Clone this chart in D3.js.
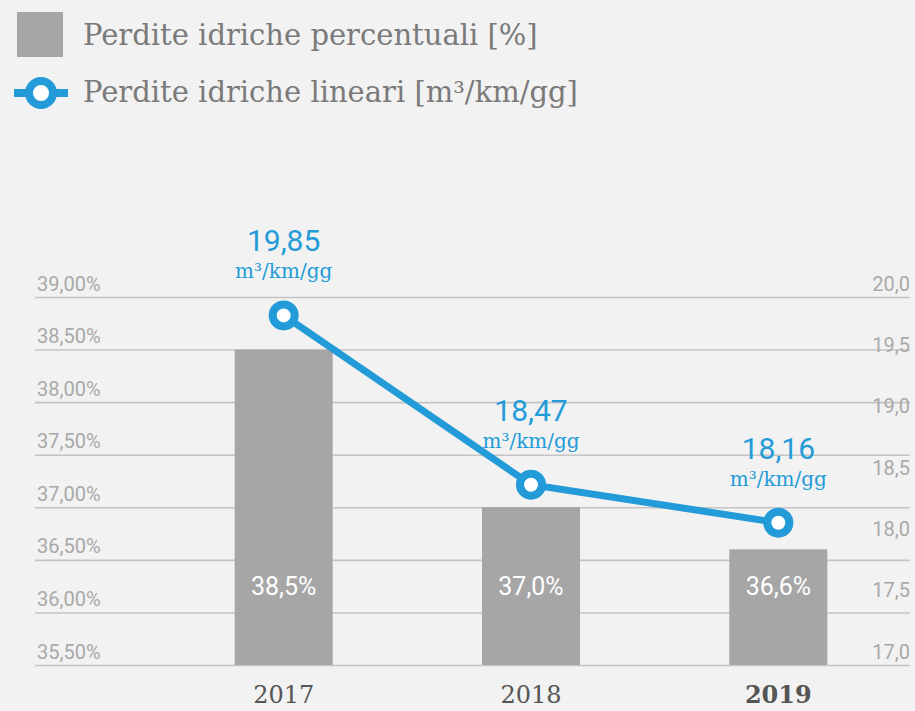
<!DOCTYPE html>
<html>
<head>
<meta charset="utf-8">
<script src="https://cdn.jsdelivr.net/npm/d3@7"></script>
<style>
  html, body { margin: 0; padding: 0; background: #f2f2f2; }
  svg { display: block; }
  .slab { font-family: "Roboto Slab", "DejaVu Serif", serif; }
  .sans { font-family: Roboto, "Noto Sans", sans-serif; }
</style>
</head>
<body>
<div id="chart"></div>
<script>
// data
var years = ["2017", "2018", "2019"];
var percentLosses = [38.5, 37.0, 36.6];
var linearLosses = [19.85, 18.47, 18.16];
var leftTicks = [35.5, 36.0, 36.5, 37.0, 37.5, 38.0, 38.5, 39.0];
var rightTicks = [17.0, 17.5, 18.0, 18.5, 19.0, 19.5, 20.0];
var legendLabels = ["Perdite idriche percentuali [%]", "Perdite idriche lineari [m³/km/gg]"];
var unitLabel = "m³/km/gg";

var width = 915, height = 711;
var blue = "#229bd8", barGrey = "#a6a6a6";

var it = d3.formatLocale({ decimal: ",", thousands: ".", grouping: [3], currency: ["", "€"] });
var fmtLeft = function (d) { return it.format(".2f")(d) + "%"; };
var fmtRight = it.format(".1f");
var fmtBar = function (d) { return it.format(".1f")(d) + "%"; };
var fmtValue = it.format(".2f");

var svg = d3.select("#chart").append("svg")
    .attr("width", width)
    .attr("height", height);

svg.append("rect").attr("width", width).attr("height", height).attr("fill", "#f2f2f2");

var plotLeft = 35, plotRight = 910, plotTop = 297, plotBottom = 665;

var x = d3.scaleBand().domain(years).range([160, 902]);
var barW = 98;
var yL = d3.scaleLinear().domain([35.5, 39.0]).range([plotBottom, plotTop]);
var yR = d3.scaleLinear().domain([17.0, 20.0]).range([plotBottom, plotTop]);

// left axis with gridlines
var leftAxis = svg.append("g")
    .attr("transform", "translate(" + plotLeft + ",0)")
    .call(d3.axisRight(yL).tickValues(leftTicks).tickSize(plotRight - plotLeft).tickFormat(fmtLeft));
leftAxis.select(".domain").remove();
leftAxis.selectAll(".tick line").attr("stroke", "#c4c4c4").attr("stroke-width", 1.6);
leftAxis.selectAll(".tick text")
    .attr("class", "sans")
    .attr("x", 2).attr("dy", -7)
    .attr("text-anchor", "start")
    .attr("fill", "#a9a9a9")
    .attr("font-size", 20);

// right axis (labels only)
var rightAxis = svg.append("g")
    .attr("transform", "translate(" + plotRight + ",0)")
    .call(d3.axisLeft(yR).tickValues(rightTicks).tickSize(0).tickFormat(fmtRight));
rightAxis.select(".domain").remove();
rightAxis.selectAll(".tick text")
    .attr("class", "sans")
    .attr("x", 0).attr("dy", -7)
    .attr("text-anchor", "end")
    .attr("fill", "#a9a9a9")
    .attr("font-size", 20);

// bars
var bars = svg.append("g");
bars.selectAll("rect")
    .data(years)
    .enter().append("rect")
    .attr("x", function (d) { return x(d) + x.bandwidth() / 2 - barW / 2; })
    .attr("y", function (d, i) { return yL(percentLosses[i]); })
    .attr("width", barW)
    .attr("height", function (d, i) { return yL(35.5) - yL(percentLosses[i]); })
    .attr("fill", barGrey);
bars.selectAll("text")
    .data(years)
    .enter().append("text")
    .attr("class", "sans")
    .attr("x", function (d) { return x(d) + x.bandwidth() / 2; })
    .attr("y", 595)
    .attr("text-anchor", "middle")
    .attr("fill", "#ffffff")
    .attr("font-size", 25)
    .text(function (d, i) { return fmtBar(percentLosses[i]); });

// year labels
svg.append("g").selectAll("text")
    .data(years)
    .enter().append("text")
    .attr("class", "slab")
    .attr("x", function (d) { return x(d) + x.bandwidth() / 2; })
    .attr("y", 703)
    .attr("text-anchor", "middle")
    .attr("fill", "#555555")
    .attr("font-size", 24)
    .attr("font-weight", function (d, i) { return i === years.length - 1 ? "bold" : "normal"; })
    .text(function (d) { return d; });

// line series
var line = d3.line()
    .x(function (d, i) { return x(years[i]) + x.bandwidth() / 2; })
    .y(function (d) { return yR(d); });
svg.append("path")
    .datum(linearLosses)
    .attr("d", line)
    .attr("fill", "none")
    .attr("stroke", blue)
    .attr("stroke-width", 7);

var points = svg.append("g").selectAll("g")
    .data(linearLosses)
    .enter().append("g")
    .attr("transform", function (d, i) {
        return "translate(" + (x(years[i]) + x.bandwidth() / 2) + "," + yR(d) + ")";
    });
points.append("circle")
    .attr("r", 11)
    .attr("fill", "#ffffff")
    .attr("stroke", blue)
    .attr("stroke-width", 8);
points.append("text")
    .attr("class", "sans")
    .attr("y", -64)
    .attr("text-anchor", "middle")
    .attr("fill", blue)
    .attr("font-size", 30)
    .text(function (d) { return fmtValue(d); });
points.append("text")
    .attr("class", "slab")
    .attr("y", -37)
    .attr("text-anchor", "middle")
    .attr("fill", blue)
    .attr("font-size", 20)
    .text(unitLabel);

// legend
var legend = svg.append("g");
legend.append("rect")
    .attr("x", 17).attr("y", 12)
    .attr("width", 46).attr("height", 45)
    .attr("fill", barGrey);
legend.append("line")
    .attr("x1", 14).attr("x2", 68)
    .attr("y1", 93).attr("y2", 93)
    .attr("stroke", blue).attr("stroke-width", 8);
legend.append("circle")
    .attr("cx", 41).attr("cy", 93).attr("r", 12)
    .attr("fill", "#ffffff").attr("stroke", blue).attr("stroke-width", 8);
legend.selectAll("text")
    .data(legendLabels)
    .enter().append("text")
    .attr("class", "slab")
    .attr("x", 83)
    .attr("y", function (d, i) { return 45 + i * 57; })
    .attr("fill", "#7a7a7a")
    .attr("font-size", 29)
    .text(function (d) { return d; });
</script>
</body>
</html>
